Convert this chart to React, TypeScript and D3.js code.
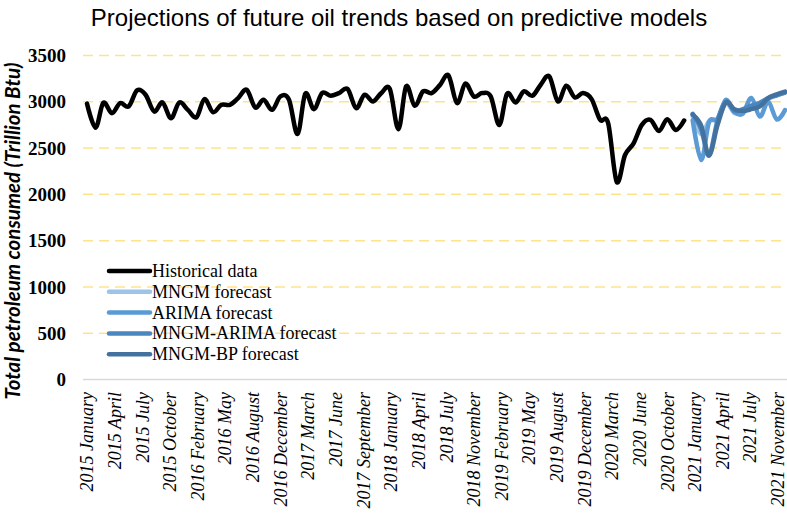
import React, { useRef, useEffect } from 'react'
import * as d3 from 'd3'

const chartTitle = 'Projections of future oil trends based on predictive models'
const yAxisTitle = 'Total petroleum consumed (Trillion Btu)'

// monthly values, Jan 2015 .. Dec 2020
const historical = [
  2980, 2720, 2990, 2877, 2985, 2950, 3123, 3076, 2895, 2993, 2823, 2993,
  2913, 2833, 3029, 2888, 2967, 2967, 3040, 3130, 2938, 3022, 2913, 3058,
  3022, 2652, 3087, 2920, 3094, 3065, 3094, 3138, 2931, 3076, 3004, 3094,
  3138, 2703, 3167, 2957, 3112, 3094, 3180, 3285, 2986, 3196, 3058, 3094,
  3058, 2750, 3087, 2993, 3112, 3065, 3185, 3275, 3004, 3174, 3047, 3094,
  3029, 2805, 2770, 2135, 2425, 2551, 2750, 2805, 2685, 2812, 2696, 2798,
]

// forecasts, Jan 2021 .. Dec 2021
const mngmForecast = [2850, 2650, 2790, 2820, 2990, 2880, 2900, 2930, 2960, 3030, 3070, 3100]
const arimaForecast = [2800, 2370, 2780, 2810, 3020, 2890, 2870, 3040, 2840, 3000, 2810, 2910]
const mngmArimaForecast = [2870, 2700, 2420, 2800, 3000, 2900, 2920, 2960, 2990, 3040, 3070, 3100]
const mngmBpForecast = [2860, 2740, 2420, 2750, 2990, 2920, 2900, 2920, 2950, 3040, 3080, 3110]

const seriesNames = ['Historical data', 'MNGM forecast', 'ARIMA forecast', 'MNGM-ARIMA forecast', 'MNGM-BP forecast']
const seriesColors = ['#000000', '#9dc3e6', '#5b9bd5', '#4a86c0', '#44729e']

const xTickLabels = [
  '2015 January', '2015 April', '2015 July', '2015 October', '2016 February', '2016 May',
  '2016 August', '2016 December', '2017 March', '2017 June', '2017 September', '2018 January',
  '2018 April', '2018 July', '2018 November', '2019 February', '2019 May', '2019 August',
  '2019 December', '2020 March', '2020 June', '2020 October', '2021 January', '2021 April',
  '2021 July', '2021 November',
]
const yTicks = [0, 500, 1000, 1500, 2000, 2500, 3000, 3500]

const W = 787
const H = 520

export default function App() {
  const svgRef = useRef<SVGSVGElement | null>(null)

  useEffect(() => {
    if (!svgRef.current) return
    const svg = d3.select(svgRef.current)
    svg.selectAll('*').remove()

    const start = new Date(Date.UTC(2015, 0, 1))
    const x = d3
      .scaleUtc()
      .domain([start, new Date(Date.UTC(2021, 11, 1))])
      .range([87, 785])
    const y = d3.scaleLinear().domain([0, 3500]).range([379.5, 55.5])
    const plotLeft = 83

    // title
    svg
      .append('text')
      .attr('x', 399)
      .attr('y', 26)
      .attr('text-anchor', 'middle')
      .attr('font-family', "'Liberation Sans Narrow', 'Liberation Sans', Arial, sans-serif")
      .attr('font-size', 24)
      .attr('fill', '#000')
      .text(chartTitle)

    // gridlines
    svg
      .append('g')
      .selectAll('line')
      .data(yTicks.filter((t) => t > 0))
      .join('line')
      .attr('x1', plotLeft)
      .attr('x2', W)
      .attr('y1', (d) => y(d))
      .attr('y2', (d) => y(d))
      .attr('stroke', '#ffe38c')
      .attr('stroke-width', 1.5)
      .attr('stroke-dasharray', '10,6')

    // x axis line
    svg
      .append('line')
      .attr('x1', plotLeft)
      .attr('x2', W)
      .attr('y1', y(0))
      .attr('y2', y(0))
      .attr('stroke', '#d9d9d9')
      .attr('stroke-width', 1.5)

    // y tick labels
    svg
      .append('g')
      .selectAll('text')
      .data(yTicks)
      .join('text')
      .attr('x', 66)
      .attr('y', (d) => y(d))
      .attr('dy', '0.35em')
      .attr('text-anchor', 'end')
      .attr('font-family', "'Liberation Serif', 'Times New Roman', serif")
      .attr('font-weight', 'bold')
      .attr('font-size', 19)
      .text((d) => d)

    // x tick labels, one every 100 days
    svg
      .append('g')
      .selectAll('text')
      .data(xTickLabels)
      .join('text')
      .attr('transform', (d, i) => `translate(${x(d3.utcDay.offset(start, i * 100))},392) rotate(-90)`)
      .attr('dy', '0.35em')
      .attr('text-anchor', 'end')
      .attr('font-family', "'Liberation Serif', 'Times New Roman', serif")
      .attr('font-style', 'italic')
      .attr('font-size', 18)
      .text((d) => d)

    // y axis title
    svg
      .append('text')
      .attr('transform', 'translate(20,231) rotate(-90)')
      .attr('text-anchor', 'middle')
      .attr('font-family', 'Lato, sans-serif')
      .attr('font-weight', 'bold')
      .attr('font-style', 'italic')
      .attr('font-size', 20.5)
      .text(yAxisTitle)

    // lines
    const seriesValues = [historical, mngmForecast, arimaForecast, mngmArimaForecast, mngmBpForecast]
    const line = d3
      .line<{ date: Date; value: number }>()
      .x((d) => x(d.date))
      .y((d) => y(d.value))
      .curve(d3.curveCardinal.tension(0))

    seriesValues.forEach((vals, si) => {
      const offset = si === 0 ? 0 : historical.length
      const pts = vals.map((v, i) => ({ date: d3.utcMonth.offset(start, offset + i), value: v }))
      svg
        .append('path')
        .datum(pts)
        .attr('d', line)
        .attr('fill', 'none')
        .attr('stroke', seriesColors[si])
        .attr('stroke-width', 4.5)
        .attr('stroke-linejoin', 'round')
        .attr('stroke-linecap', 'round')
    })

    // legend
    const legend = svg
      .append('g')
      .selectAll('g')
      .data(seriesNames)
      .join('g')
      .attr('transform', (d, i) => `translate(0,${271 + i * 20.8})`)

    legend
      .append('line')
      .attr('x1', 109)
      .attr('x2', 150)
      .attr('stroke', (d, i) => seriesColors[i])
      .attr('stroke-width', 4.5)
      .attr('stroke-linecap', 'round')

    legend
      .append('text')
      .attr('x', 152)
      .attr('y', 6)
      .attr('font-family', "'Liberation Serif', 'Times New Roman', serif")
      .attr('font-size', 18)
      .text((d) => d)
  }, [])

  return (
    <svg
      ref={svgRef}
      width={W}
      height={H}
      style={{ position: 'absolute', left: 0, top: 0, background: '#fff' }}
    />
  )
}
